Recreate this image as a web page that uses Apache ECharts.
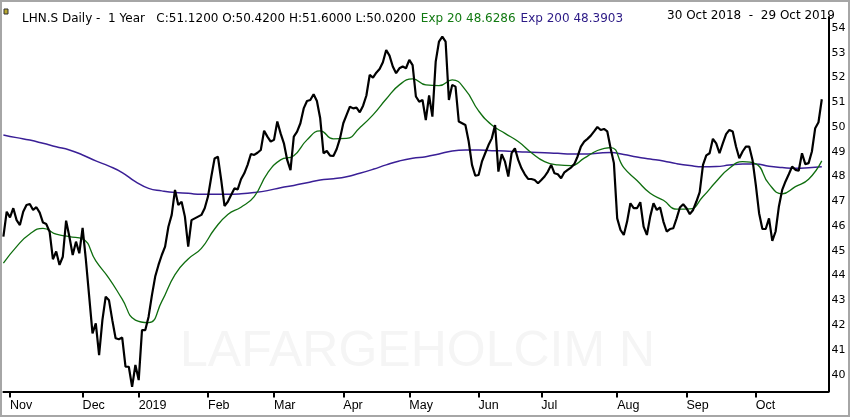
<!DOCTYPE html>
<html>
<head>
<meta charset="utf-8">
<title>LHN.S Daily - 1 Year</title>
<style>
  html, body { margin: 0; padding: 0; background: #fff; }
  .chart { width: 850px; height: 417px; }
</style>
<script src="https://cdn.jsdelivr.net/npm/echarts@6.0.0/dist/echarts.min.js"></script>
</head>
<body>
<div class="chart"></div>
<script>
// SIX 交易日：工作日去掉假期
const firstDay = '2018-10-30';
const lastDay = '2019-10-29';
const holidays = ['2018-12-24', '2018-12-25', '2018-12-26', '2018-12-31', '2019-01-01', '2019-01-02',
  '2019-04-19', '2019-04-22', '2019-05-01', '2019-05-30', '2019-06-10', '2019-08-01'];
const monthNames = ['Jan', 'Feb', 'Mar', 'Apr', 'May', 'Jun', 'Jul', 'Aug', 'Sep', 'Oct', 'Nov', 'Dec'];
const yTicks = [40, 41, 42, 43, 44, 45, 46, 47, 48, 49, 50, 51, 52, 53, 54];

// 收盘价（每个交易日一个）
const closes = [
  45.57, 46.58, 46.35, 46.72, 46.24, 46.04, 46.58, 46.85, 46.89, 46.65,
  46.76, 46.54, 46.14, 46.08, 45.77, 44.66, 44.97, 44.43, 44.76, 46.22,
  45.57, 44.83, 45.37, 44.90, 45.93, 44.63, 43.15, 41.67, 42.07, 40.79,
  42.20, 43.15, 43.00, 42.20, 41.47, 41.43, 41.50, 40.32, 40.32, 39.51,
  40.39, 39.78, 41.80, 41.80, 42.34, 43.20, 43.96, 44.43, 44.83, 45.17,
  45.97, 46.45, 47.46, 46.85, 46.98, 46.38, 45.17, 46.24, 46.31, 46.38,
  46.45, 46.72, 47.19, 47.99, 48.73, 48.80, 47.86, 46.81, 46.98, 47.25,
  47.52, 47.48, 47.89, 48.13, 48.47, 48.91, 48.87, 48.96, 49.07, 49.85,
  49.61, 49.41, 49.48, 50.22, 49.74, 49.34, 48.67, 48.26, 49.61, 49.81,
  50.15, 50.75, 51.05, 51.09, 51.32, 51.05, 50.35, 48.94, 49.03, 48.84,
  48.83, 49.11, 49.54, 50.15, 50.49, 50.82, 50.75, 50.78, 50.59, 50.86,
  51.27, 52.10, 51.99, 52.19, 52.34, 52.61, 53.11, 52.88, 52.44, 52.17,
  52.37, 52.44, 52.37, 52.71, 52.50, 51.23, 51.02, 51.09, 50.28, 51.27,
  50.42, 52.64, 53.45, 53.65, 53.45, 51.09, 51.70, 51.63, 50.22, 50.15,
  50.08, 49.41, 48.47, 48.03, 48.06, 48.60, 48.94, 49.27, 49.54, 50.08,
  48.20, 48.90, 48.60, 48.00, 48.94, 49.14, 48.67, 48.33, 48.09, 47.90,
  47.90, 47.86, 47.73, 47.86, 48.00, 48.20, 48.47, 48.13, 48.09, 47.93,
  48.17, 48.27, 48.36, 48.50, 48.81, 49.21, 49.41, 49.52, 49.65, 49.82,
  50.00, 49.88, 49.92, 49.82, 49.14, 48.54, 46.31, 45.84, 45.64, 46.18,
  46.92, 46.72, 46.72, 46.96, 45.98, 45.64, 46.38, 46.92, 46.65, 46.75,
  46.18, 45.78, 45.88, 45.91, 46.31, 46.75, 46.88, 46.72, 46.48, 46.65,
  46.99, 47.37, 48.47, 48.85, 48.94, 49.52, 49.34, 48.94, 49.34, 49.71,
  49.88, 49.82, 49.21, 48.74, 49.01, 49.21, 49.21, 48.67, 47.66, 46.52,
  45.88, 45.88, 46.31, 45.40, 45.78, 46.79, 47.46, 47.80, 48.09, 48.40,
  48.27, 48.23, 48.94, 48.50, 48.54, 49.01, 49.95, 50.19, 51.12
];

// 均线，每 4 个交易日读一个点
const emaStep = 4;
const ema20 = [
  44.50, 45.17, 45.68, 45.91, 45.67, 45.57, 45.48, 44.59, 43.89, 43.05,
  42.20, 42.10, 42.96, 44.04, 44.67, 45.10, 45.88, 46.47, 46.76, 47.19,
  48.13, 48.67, 48.84, 49.48, 49.84, 49.52, 49.54, 49.97, 50.49, 51.13,
  51.70, 51.94, 51.70, 51.67, 51.90, 51.50, 50.65, 50.08, 49.74, 49.41,
  48.96, 48.60, 48.47, 48.44, 48.74, 49.05, 49.17, 48.36, 47.84, 47.32,
  47.04, 46.68, 46.69, 47.19, 47.80, 48.33, 48.60, 48.51, 47.70, 47.30,
  47.59, 47.89, 48.63
];
const ema200 = [
  49.68, 49.57, 49.47, 49.34, 49.20, 49.07, 48.87, 48.63, 48.42, 48.16,
  47.79, 47.52, 47.42, 47.35, 47.32, 47.28, 47.28, 47.28, 47.30, 47.35,
  47.43, 47.55, 47.64, 47.75, 47.86, 47.91, 47.99, 48.13, 48.29, 48.47,
  48.63, 48.74, 48.80, 48.91, 49.03, 49.07, 49.07, 49.04, 49.03, 49.00,
  48.98, 48.96, 48.94, 48.91, 48.91, 48.94, 48.97, 48.89, 48.79, 48.71,
  48.63, 48.52, 48.44, 48.39, 48.40, 48.46, 48.51, 48.51, 48.41, 48.36,
  48.33, 48.35, 48.39
];

(function () {
  const pad = (n) => (n < 10 ? '0' : '') + n;
  const fmt = (d) => d.getUTCFullYear() + '-' + pad(d.getUTCMonth() + 1) + '-' + pad(d.getUTCDate());

  const dates = [];
  const d = new Date(firstDay + 'T00:00:00Z');
  const end = new Date(lastDay + 'T00:00:00Z');
  while (d <= end) {
    const wd = d.getUTCDay();
    const s = fmt(d);
    if (wd !== 0 && wd !== 6 && holidays.indexOf(s) < 0) dates.push(s);
    d.setUTCDate(d.getUTCDate() + 1);
  }

  // 每月第一个交易日
  const monthStarts = [];
  for (let i = 1; i < dates.length; i++) {
    if (dates[i].slice(5, 7) !== dates[i - 1].slice(5, 7)) monthStarts.push(i);
  }
  const isMonthStart = (index) => monthStarts.indexOf(index) >= 0;

  const ema20Data = ema20.map((v, i) => [Math.min(i * emaStep, dates.length - 1), v]);
  const ema200Data = ema200.map((v, i) => [Math.min(i * emaStep, dates.length - 1), v]);

  const myChart = echarts.init(document.querySelector('.chart'));
  const hdrFont = '"DejaVu Sans", Verdana, sans-serif';
  const option = {
    animation: false,
    backgroundColor: '#fff',
    title: [
      {
        left: 17,
        top: 5,
        text: '{a|LHN.S Daily -  1 Year   C:51.1200 O:50.4200 H:51.6000 L:50.0200} {g|Exp 20 48.6286} {p|Exp 200 48.3903}',
        textStyle: {
          fontWeight: 'normal',
          rich: {
            a: { color: '#000', fontSize: 12, fontWeight: 'normal', fontFamily: hdrFont },
            g: { color: '#127a12', fontSize: 12, fontWeight: 'normal', fontFamily: hdrFont },
            p: { color: '#2c1a86', fontSize: 12, fontWeight: 'normal', fontFamily: hdrFont }
          }
        }
      },
      {
        right: 10,
        top: 5,
        text: '30 Oct 2018  -  29 Oct 2019',
        textStyle: { color: '#000', fontSize: 12, fontWeight: 'normal', fontFamily: hdrFont }
      }
    ],
    graphic: [
      {
        type: 'text',
        silent: true,
        z: -1,
        left: 180,
        top: 327,
        style: {
          text: 'LAFARGEHOLCIM N',
          fill: '#f5f5f5',
          fontSize: 50,
          fontFamily: '"Liberation Sans", Arial, sans-serif'
        }
      },
      {
        type: 'rect',
        silent: true,
        shape: { x: 4, y: 9, width: 4, height: 5 },
        style: { fill: '#b8a830', stroke: '#333', lineWidth: 1 }
      },
      {
        type: 'rect',
        silent: true,
        shape: { x: 1, y: 1, width: 848, height: 415 },
        style: { fill: 'none', stroke: '#a6a6a6', lineWidth: 2 }
      }
    ],
    grid: {
      left: 3.4,
      right: 21.6,
      top: 17,
      bottom: 25.5
    },
    xAxis: {
      type: 'category',
      data: dates,
      boundaryGap: false,
      max: dates.length + 1,
      axisLine: {
        lineStyle: { color: '#000', width: 2 }
      },
      axisTick: {
        interval: isMonthStart,
        length: 6,
        lineStyle: { color: '#000', width: 2 }
      },
      axisLabel: {
        interval: isMonthStart,
        align: 'left',
        margin: 8,
        color: '#000',
        fontSize: 12.5,
        fontFamily: '"Liberation Sans Narrow", "Liberation Sans", Arial, sans-serif',
        formatter: (value) => {
          const m = +value.slice(5, 7) - 1;
          return m === 0 ? value.slice(0, 4) : monthNames[m];
        }
      },
      splitLine: { show: false }
    },
    yAxis: {
      type: 'value',
      position: 'right',
      min: 39.32,
      max: 54.44,
      axisLine: {
        show: true,
        lineStyle: { color: '#000', width: 2 }
      },
      axisTick: { show: false },
      axisLabel: {
        customValues: yTicks,
        margin: 3,
        color: '#000',
        fontSize: 11,
        fontFamily: hdrFont
      },
      splitLine: { show: false }
    },
    series: [
      {
        name: 'Exp 200',
        type: 'line',
        data: ema200Data,
        smooth: true,
        showSymbol: false,
        lineStyle: { color: '#3a1f96', width: 1.5 },
        z: 2
      },
      {
        name: 'Exp 20',
        type: 'line',
        data: ema20Data,
        smooth: true,
        showSymbol: false,
        lineStyle: { color: '#0f6e0f', width: 1.3 },
        z: 3
      },
      {
        name: 'LHN.S',
        type: 'line',
        data: closes,
        showSymbol: false,
        lineStyle: { color: '#000', width: 2.2 },
        z: 4
      }
    ]
  };
  myChart.setOption(option);

  // 图表自适应缩放
  window.addEventListener('resize', () => {
    myChart.resize();
  });
})();
</script>
</body>
</html>
